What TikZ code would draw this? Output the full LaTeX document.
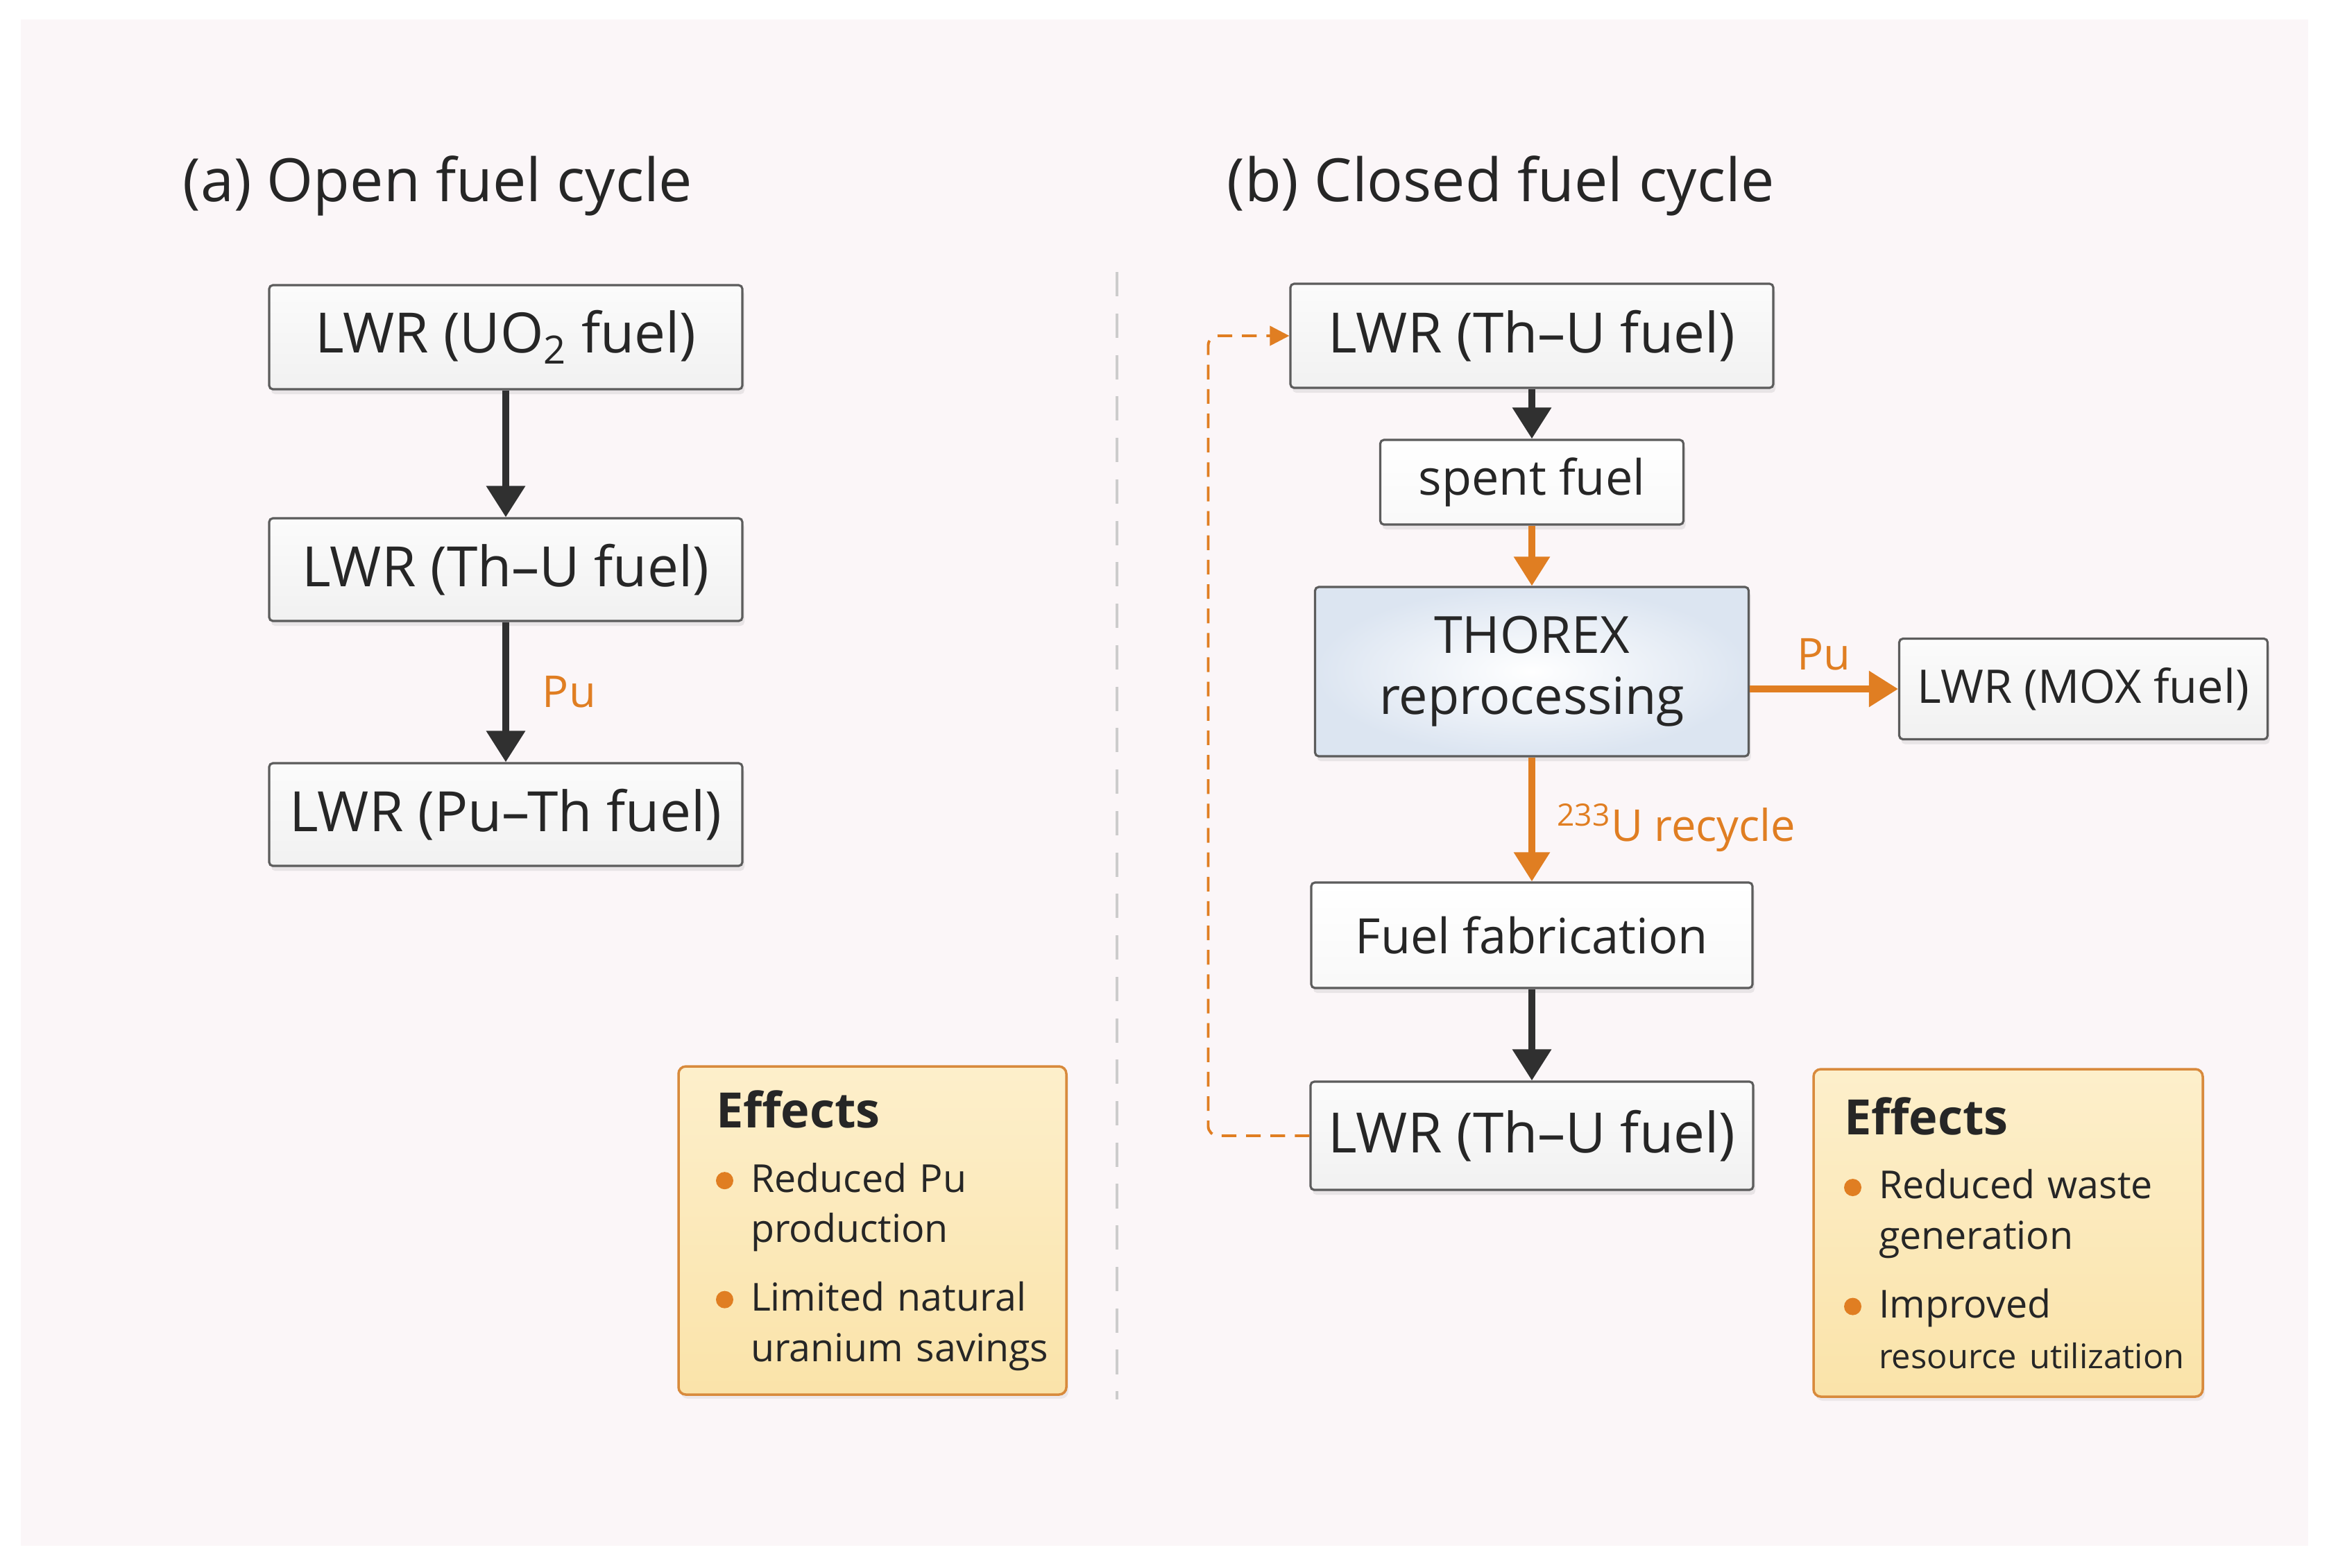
\documentclass[tikz,border=0pt]{standalone}
\usepackage{fontspec}
\setmainfont{Open Sans}
\usetikzlibrary{arrows.meta,positioning,shadows}

\definecolor{bgpink}{HTML}{FBF6F8}
\definecolor{boxline}{HTML}{5C5C5C}
\definecolor{txt}{HTML}{262626}
\definecolor{orng}{HTML}{E07E22}
\definecolor{darkarr}{HTML}{303030}
\definecolor{efftop}{HTML}{FDEFCB}
\definecolor{effbot}{HTML}{FAE3A9}
\definecolor{effline}{HTML}{D88A3C}
\definecolor{thxout}{HTML}{DCE5F1}
\definecolor{divgray}{HTML}{CCCCCC}

\newcommand{\bul}{\tikz[baseline=-0.55ex]\fill[orng] (0,0) circle (0.125cm);\hspace{0.25cm}}
\newcommand{\ind}{\hphantom{\bul}}

\begin{document}
\begin{tikzpicture}[
    >=Triangle,
    box/.style={
        draw=boxline,
        line width=0.9pt,
        rounded corners=1.5pt,
        inner sep=0pt,
        text=txt,
        font=\fontsize{20}{24}\selectfont,
        drop shadow={opacity=0.15, fill=black!50, shadow xshift=0.03cm, shadow yshift=-0.07cm}
    },
    lwr/.style={
        box,
        top color=gray!3,
        bottom color=gray!11,
        font=\fontsize{22.8}{27}\selectfont
    },
    plain/.style={
        box,
        top color=white,
        bottom color=gray!5
    },
    thorex/.style={
        box,
        inner color=white,
        outer color=thxout,
        align=center,
        font=\fontsize{21}{25}\selectfont
    },
    effbox/.style={
        draw=effline,
        line width=1pt,
        rounded corners=3pt,
        top color=efftop,
        bottom color=effbot,
        text=txt,
        align=left,
        inner xsep=0.54cm,
        font=\fontsize{15.8}{20.7}\selectfont,
        drop shadow={opacity=0.12, fill=black!50, shadow xshift=0.03cm, shadow yshift=-0.06cm}
    },
    titre/.style={
        font=\fontsize{24.5}{28}\selectfont,
        text=txt,
        anchor=west,
        inner sep=0pt
    },
    flux/.style={
        line width=2.8pt,
        draw=darkarr,
        arrows={-Triangle[length=0.45cm, width=0.54cm]}
    },
    fluxo/.style={
        line width=2.6pt,
        draw=orng,
        arrows={-Triangle[length=0.42cm, width=0.5cm]}
    },
    retour/.style={
        draw=orng,
        line width=1.1pt,
        dash pattern=on 6pt off 4pt,
        rounded corners=4pt,
        arrows={-Triangle[length=0.28cm, width=0.28cm]}
    },
    lab/.style={
        text=orng,
        font=\fontsize{18}{21}\selectfont,
        inner sep=0pt
    }
]

% Canvas
\useasboundingbox (0,0) rectangle (33.57,-22.59);
\fill[white] (0,0) rectangle (33.57,-22.59);
\fill[bgpink] (0.30,-0.28) rectangle (33.27,-22.28);

% Titles
\node[titre] (ta) at (2.63,-2.68) {(a) Open fuel cycle};
\node[titre] (tb) at (17.68,-2.68) {(b) Closed fuel cycle};

% Divider
\draw[divgray, line width=1pt, dash pattern=on 10pt off 7pt] (16.10,-3.92) -- (16.10,-20.17);

% (a) Open cycle
\node[lwr, minimum width=6.82cm, minimum height=1.50cm] (uo2) at (7.29,-4.86) {LWR (UO\textsubscript{2} fuel)};
\node[lwr, minimum width=6.82cm, minimum height=1.48cm] (thua) at (7.29,-8.21) {LWR (Th\textendash U fuel)};
\node[lwr, minimum width=6.82cm, minimum height=1.48cm] (puth) at (7.29,-11.74) {LWR (Pu\textendash Th fuel)};

\draw[flux] (uo2) -- (thua);
\draw[flux] (thua) -- node[lab, right=0.48cm] (pua) {Pu} (puth);

% (b) Closed cycle
\node[lwr, minimum width=6.96cm, minimum height=1.50cm] (thtop) at (22.08,-4.84) {LWR (Th\textendash U fuel)};
\node[plain, minimum width=4.37cm, minimum height=1.22cm] (spent) at (22.08,-6.95) {spent fuel};
\node[thorex, minimum width=6.25cm, minimum height=2.44cm] (thx) at (22.08,-9.68) {THOREX\\reprocessing};
\node[lwr, minimum width=5.31cm, minimum height=1.45cm, font=\fontsize{19}{23}\selectfont] (mox) at (30.03,-9.93) {LWR (MOX fuel)};
\node[plain, minimum width=6.36cm, minimum height=1.52cm] (fab) at (22.08,-13.48) {Fuel fabrication};
\node[lwr, minimum width=6.38cm, minimum height=1.56cm] (thbot) at (22.08,-16.37) {LWR (Th\textendash U fuel)};

\draw[flux] (thtop) -- (spent);
\draw[fluxo] (spent) -- (thx);
\draw[fluxo] (thx.east |- mox.west) -- node[lab, above=0.22cm] (pub) {Pu} (mox.west);
\draw[fluxo] (thx) -- node[lab, right=0.32cm, yshift=-0.12cm] (u233) {\textsuperscript{233}U recycle} (fab);
\draw[flux] (fab) -- (thbot);
\draw[retour] (thbot.west) -- ++(-1.46,0) |- (thtop.west);

% Effects
\node[effbox, minimum height=4.73cm, text width=4.51cm] (effa) at (12.575,-17.735)
{\mbox{\fontsize{20}{24}\selectfont\bfseries Effects}\\[0.2cm]
\mbox{\bul Reduced Pu}\\
\mbox{\ind production}\\[0.26cm]
\mbox{\bul Limited natural}\\
\mbox{\ind uranium savings}};

\node[effbox, minimum height=4.72cm, text width=4.73cm, inner xsep=0.44cm] (effb) at (28.945,-17.77)
{\mbox{\fontsize{20}{24}\selectfont\bfseries Effects}\\[0.2cm]
\mbox{\bul Reduced waste}\\
\mbox{\ind generation}\\[0.26cm]
\mbox{\bul Improved}\\
\mbox{\ind\fontsize{13.9}{20.7}\selectfont resource utilization}};

\end{tikzpicture}
\end{document}
